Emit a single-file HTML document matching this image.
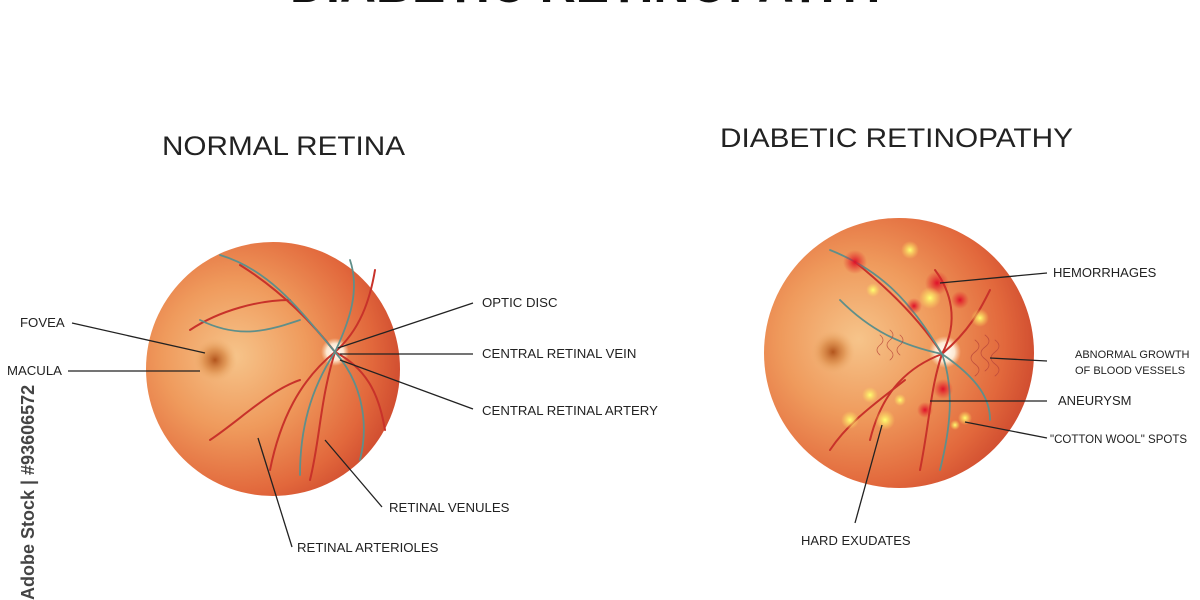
<!DOCTYPE html>
<html><head><meta charset="utf-8"><style>
html,body{margin:0;padding:0;background:#fff;}
svg{display:block}
text{font-family:"Liberation Sans",sans-serif;}
</style></head><body>
<svg width="1200" height="600" viewBox="0 0 1200 600" xmlns="http://www.w3.org/2000/svg">
<defs>
<radialGradient id="g1" cx="0.35" cy="0.45" r="0.72">
<stop offset="0" stop-color="#f6c48a"/>
<stop offset="0.4" stop-color="#ef9a5c"/>
<stop offset="0.75" stop-color="#e2683c"/>
<stop offset="1" stop-color="#c8402a"/>
</radialGradient>
<radialGradient id="fov" cx="0.5" cy="0.5" r="0.5">
<stop offset="0" stop-color="#b2541c"/>
<stop offset="0.5" stop-color="#d88845" stop-opacity="0.7"/>
<stop offset="1" stop-color="#f0b070" stop-opacity="0"/>
</radialGradient>
<radialGradient id="disc" cx="0.5" cy="0.5" r="0.5">
<stop offset="0" stop-color="#fff"/>
<stop offset="0.6" stop-color="#fff3e0" stop-opacity="0.9"/>
<stop offset="1" stop-color="#ffe0c0" stop-opacity="0"/>
</radialGradient>
<radialGradient id="hem" cx="0.5" cy="0.5" r="0.5">
<stop offset="0" stop-color="#e0102a"/>
<stop offset="1" stop-color="#e0302a" stop-opacity="0"/>
</radialGradient>
<radialGradient id="ex" cx="0.5" cy="0.5" r="0.5">
<stop offset="0" stop-color="#ffff70"/>
<stop offset="1" stop-color="#ffe060" stop-opacity="0"/>
</radialGradient>
</defs>

<text x="590" y="2" font-size="56" font-weight="bold" text-anchor="middle" fill="#111" textLength="600" lengthAdjust="spacingAndGlyphs">DIABETIC RETINOPATHY</text>
<text x="162" y="155" font-size="27" fill="#222" textLength="243" lengthAdjust="spacingAndGlyphs">NORMAL RETINA</text>
<text x="720" y="147" font-size="27" fill="#222" textLength="353" lengthAdjust="spacingAndGlyphs">DIABETIC RETINOPATHY</text>

<!-- left retina -->
<circle cx="273" cy="369" r="127" fill="url(#g1)"/>
<circle cx="215" cy="360" r="22" fill="url(#fov)"/>
<circle cx="335" cy="352" r="14" fill="url(#disc)"/>
<g fill="none" stroke-linecap="round">
<g stroke="#c8322a" stroke-width="2">
<path d="M335 352 C310 320 280 290 240 265"/>
<path d="M335 352 C300 380 280 420 270 470"/>
<path d="M335 352 C320 400 320 440 310 480"/>
<path d="M335 352 C360 330 370 300 375 270"/>
<path d="M335 352 C370 370 380 400 385 430"/>
<path d="M300 380 C270 390 240 420 210 440"/>
<path d="M290 300 C260 300 220 310 190 330"/>
</g>
<g stroke="#5f8f8a" stroke-width="1.8">
<path d="M335 352 C300 310 270 270 220 255"/>
<path d="M335 352 C310 390 300 430 300 475"/>
<path d="M335 352 C350 320 360 290 350 260"/>
<path d="M335 352 C360 380 370 420 360 460"/>
<path d="M300 320 C270 330 240 340 200 320"/>
</g>
</g>
<g stroke="#222" stroke-width="1.3">
<line x1="72" y1="323" x2="205" y2="353"/>
<line x1="68" y1="371" x2="200" y2="371"/>
<line x1="473" y1="303" x2="338" y2="348"/>
<line x1="473" y1="354" x2="340" y2="354"/>
<line x1="473" y1="409" x2="340" y2="360"/>
<line x1="382" y1="507" x2="325" y2="440"/>
<line x1="292" y1="547" x2="258" y2="438"/>
</g>
<g font-size="13.2" fill="#222">
<text x="20" y="327">FOVEA</text>
<text x="7" y="375">MACULA</text>
<text x="482" y="307">OPTIC DISC</text>
<text x="482" y="358">CENTRAL RETINAL VEIN</text>
<text x="482" y="415">CENTRAL RETINAL ARTERY</text>
<text x="389" y="512">RETINAL VENULES</text>
<text x="297" y="552">RETINAL ARTERIOLES</text>
</g>

<!-- right retina -->
<circle cx="899" cy="353" r="135" fill="url(#g1)"/>
<circle cx="833" cy="352" r="22" fill="url(#fov)"/>
<circle cx="945" cy="352" r="16" fill="url(#disc)"/>
<g fill="none" stroke-linecap="round">
<g stroke="#c8322a" stroke-width="2">
<path d="M942 354 C920 320 890 290 855 262"/>
<path d="M942 354 C960 320 950 290 935 270"/>
<path d="M942 354 C930 390 930 420 920 470"/>
<path d="M942 354 C900 370 880 400 870 440"/>
<path d="M942 354 C970 330 980 310 990 290"/>
<path d="M905 380 C880 400 850 420 830 450"/>
</g>
<g stroke="#5f8f8a" stroke-width="1.8">
<path d="M942 354 C910 300 880 270 830 250"/>
<path d="M942 354 C955 390 950 430 940 470"/>
<path d="M942 354 C980 380 990 400 990 420"/>
<path d="M942 354 C900 345 870 330 840 300"/>
</g>
<g stroke="#b8453a" stroke-width="0.8" opacity="0.8">
<path d="M975 340 q8 6 0 12 q-8 6 0 12 q8 6 0 12 M985 335 q8 6 0 12 q-8 6 0 12 q8 6 0 12 M995 340 q8 6 0 12 q-8 6 0 12 q8 6 0 12"/>
<path d="M880 335 q6 5 0 10 q-6 5 0 10 M890 330 q6 5 0 10 q-6 5 0 10 q6 5 0 10 M900 335 q6 5 0 10 q-6 5 0 10"/>
</g>
</g>
<g fill="url(#hem)">
<circle cx="855" cy="262" r="12"/><circle cx="937" cy="283" r="12"/><circle cx="960" cy="300" r="9"/>
<circle cx="914" cy="306" r="8"/><circle cx="943" cy="389" r="10"/><circle cx="925" cy="410" r="8"/>
</g>
<g fill="url(#ex)">
<circle cx="910" cy="250" r="9"/><circle cx="930" cy="298" r="11"/><circle cx="980" cy="318" r="9"/>
<circle cx="873" cy="290" r="7"/><circle cx="885" cy="420" r="10"/><circle cx="850" cy="420" r="9"/>
<circle cx="870" cy="395" r="8"/><circle cx="900" cy="400" r="6"/><circle cx="965" cy="418" r="7"/>
<circle cx="955" cy="425" r="5"/>
</g>
<g stroke="#222" stroke-width="1.3">
<line x1="1047" y1="273" x2="940" y2="283"/>
<line x1="1047" y1="361" x2="990" y2="358"/>
<line x1="1047" y1="401" x2="930" y2="401"/>
<line x1="1047" y1="438" x2="965" y2="422"/>
<line x1="855" y1="523" x2="882" y2="425"/>
</g>
<g font-size="13" fill="#222">
<text x="1053" y="277">HEMORRHAGES</text>
<text x="1075" y="358" font-size="11">ABNORMAL GROWTH</text>
<text x="1075" y="374" font-size="11">OF BLOOD VESSELS</text>
<text x="1058" y="405">ANEURYSM</text>
<text x="1050" y="443" font-size="11.5">"COTTON WOOL" SPOTS</text>
<text x="801" y="545">HARD EXUDATES</text>
</g>

<text transform="translate(34,600) rotate(-90)" font-size="18" font-weight="bold" fill="#444">Adobe Stock | #93606572</text>
</svg>
</body></html>
